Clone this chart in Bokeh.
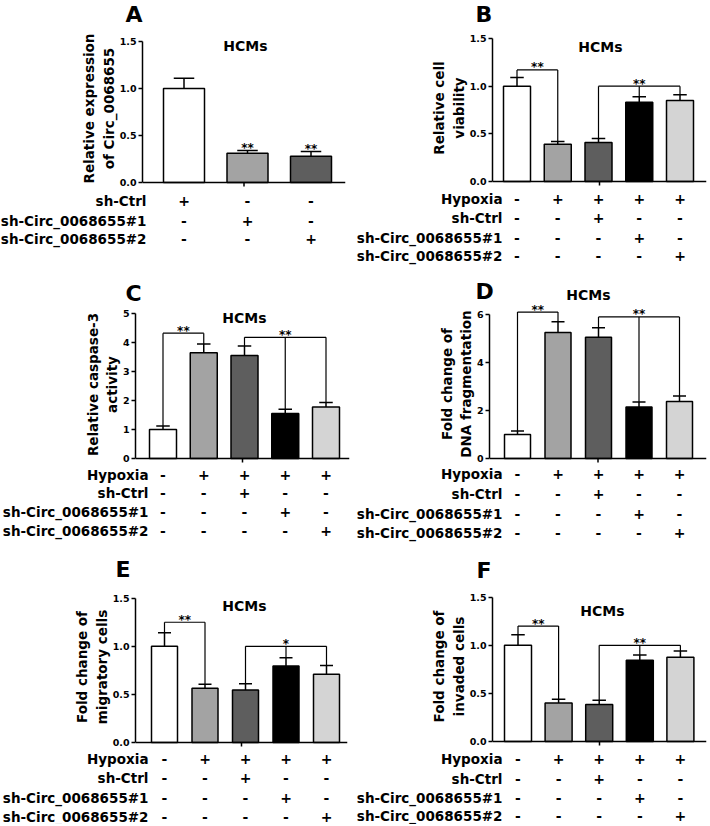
from bokeh.plotting import figure
from bokeh.models import Span, FixedTicker, NumeralTickFormatter, Range1d
from bokeh.layouts import column, row
from bokeh.embed import file_html
from bokeh.resources import INLINE
from bokeh.core.properties import value

FONT = "DejaVu Sans"

# ---------------- data ----------------
colors_A = ["#ffffff", "#a3a3a3", "#5e5e5e"]
colors_5 = ["#ffffff", "#a3a3a3", "#5e5e5e", "#000000", "#d4d4d4"]

rows_A = ["sh-Ctrl", "sh-Circ_0068655#1", "sh-Circ_0068655#2"]
signs_A = [["+", "-", "-"], ["-", "+", "-"], ["-", "-", "+"]]
rows_5 = ["Hypoxia", "sh-Ctrl", "sh-Circ_0068655#1", "sh-Circ_0068655#2"]
signs_5 = [["-", "+", "+", "+", "+"],
           ["-", "-", "+", "-", "-"],
           ["-", "-", "-", "+", "-"],
           ["-", "-", "-", "-", "+"]]

A_values = [1.00, 0.31, 0.28]
A_errors = [0.11, 0.03, 0.05]
A_stars = ["", "**", "**"]

B_values = [1.00, 0.39, 0.41, 0.83, 0.85]
B_errors = [0.09, 0.03, 0.04, 0.06, 0.06]
C_values = [1.00, 3.65, 3.55, 1.55, 1.78]
C_errors = [0.12, 0.30, 0.33, 0.15, 0.15]
D_values = [1.00, 5.25, 5.05, 2.15, 2.38]
D_errors = [0.15, 0.45, 0.40, 0.20, 0.22]
E_values = [1.00, 0.565, 0.545, 0.795, 0.71]
E_errors = [0.14, 0.04, 0.065, 0.085, 0.09]
F_values = [1.00, 0.40, 0.385, 0.845, 0.875]
F_errors = [0.11, 0.04, 0.045, 0.055, 0.065]

# brackets: (left bar, right bar, middle bar or None, height, label)
B_brackets = [(0, 1, None, 1.17, "**"), (2, 4, 3, 1.00, "**")]
C_brackets = [(0, 1, None, 4.32, "**"), (2, 4, 3, 4.18, "**")]
D_brackets = [(0, 1, None, 6.10, "**"), (2, 4, 3, 5.90, "**")]
E_brackets = [(0, 1, None, 1.25, "**"), (2, 4, 3, 1.00, "*")]
F_brackets = [(0, 1, None, 1.20, "**"), (2, 4, 3, 1.00, "**")]

ticks_15 = [0, 0.5, 1.0, 1.5]
ticks_C = [0, 1, 2, 3, 4, 5]
ticks_D = [0, 2, 4, 6]


def style(p):
    p.outline_line_color = None
    p.grid.visible = False
    p.background_fill_color = "white"
    p.border_fill_color = "white"
    p.frame_align = False
    return p


def bare(w, h, xr, yr):
    p = figure(width=w, height=h, output_backend="svg", toolbar_location=None,
               x_range=xr, y_range=yr, x_axis_location=None, y_axis_location=None,
               min_border=0)
    return style(p)


def txt(p, xs, ys, texts, size, align="center"):
    p.text(x=xs, y=ys, text=texts, text_font=value(FONT), text_font_style="bold",
           text_font_size=size, text_align=align, text_baseline="middle",
           text_color="black")


def make_panel(g, values, errors, colors, row_names, signs, ticks, tick_fmt,
               ylabel, letter, brackets=None, stars=None):
    fl, ft, fw, fh = g["fig"]
    y0, ytop_px, ymax = g["y0"], g["ytop_px"], ticks[-1]
    c0, sp = g["c0"], g["sp"]
    scale = (y0 - ytop_px) / ymax
    fb = ft + fh
    h1 = g["head_b"]
    h2 = y0 + 6

    def X(px):
        return (px - c0) / sp

    def Y(py):
        return (y0 - py) / scale

    # --- header strip (panel letter, maybe title) ---
    head = bare(fw, h1 - ft, Range1d(X(fl), X(fl + fw)), Range1d(Y(h1), Y(ft)))
    lx, ly = g["letter"]
    txt(head, [X(lx)], [Y(ly)], [letter], "22px", align="left")

    # --- bar plot with real y axis ---
    p = figure(width=fw, height=h2 - h1, output_backend="svg", toolbar_location=None,
               x_range=Range1d(X(g["ax_x"]), X(g["ax_r"])),
               y_range=Range1d(Y(h2), Y(h1)),
               x_axis_location=None,
               min_border_left=g["ax_x"] - fl, min_border_right=fl + fw - g["ax_r"],
               min_border_top=0, min_border_bottom=0)
    style(p)

    ax = p.yaxis[0]
    ax.bounds = (0, ymax)
    ax.ticker = FixedTicker(ticks=ticks)
    ax.formatter = NumeralTickFormatter(format=tick_fmt)
    ax.minor_tick_line_color = None
    ax.major_tick_in = 0
    ax.major_tick_out = 4
    ax.axis_line_width = 1.5
    ax.major_tick_line_width = 1.5
    ax.major_label_standoff = 2
    ax.major_label_text_font = FONT
    ax.major_label_text_font_style = "bold"
    ax.major_label_text_font_size = "9.5px"
    ax.major_label_text_color = "black"
    ax.axis_label = "\n".join(ylabel)
    ax.axis_label_text_font = FONT
    ax.axis_label_text_font_style = "bold"
    ax.axis_label_text_font_size = "13.5px"
    ax.axis_label_text_color = "black"
    ax.axis_label_standoff = 0

    hx, hy = g["hcms"]
    if hy < h1:
        txt(head, [X(hx)], [Y(hy)], ["HCMs"], "14px")
    else:
        txt(p, [X(hx)], [Y(hy)], ["HCMs"], "14px")

    n = len(values)
    xs = list(range(n))
    bw = g["bar_px"] / sp
    tops = [v + e for v, e in zip(values, errors)]

    # error bars (upper only)
    p.segment(x0=xs, y0=values, x1=xs, y1=tops, line_color="black", line_width=1.5)
    p.segment(x0=[x - bw / 4 for x in xs], y0=tops, x1=[x + bw / 4 for x in xs], y1=tops,
              line_color="black", line_width=1.5)
    p.vbar(x=xs, top=values, width=bw, bottom=0, fill_color=colors,
           line_color="black", line_width=1.5)

    # x axis line and centre tick
    p.add_layout(Span(location=0, dimension="width", line_color="black", line_width=1.5))
    mid = (X(g["ax_x"]) + X(g["ax_r"])) / 2
    p.segment(x0=[mid], y0=[0], x1=[mid], y1=[-4 / scale], line_color="black", line_width=1.5)

    if brackets:
        bx0, by0, bx1, by1, sx, sy, st = [], [], [], [], [], [], []
        for (l, r, m, h, lab) in brackets:
            bx0 += [l, r, l]
            by0 += [tops[l], tops[r], h]
            bx1 += [l, r, r]
            by1 += [h, h, h]
            if m is not None:
                bx0.append(m); by0.append(tops[m]); bx1.append(m); by1.append(h)
            sx.append(m if m is not None else (l + r) / 2)
            sy.append(h + 2.5 / scale)
            st.append(lab)
        p.segment(x0=bx0, y0=by0, x1=bx1, y1=by1, line_color="black", line_width=1.2)
        txt(p, sx, sy, st, "12px")
    if stars:
        txt(p, xs, [t + 2.5 / scale for t in tops], stars, "12px")

    # --- +/- table ---
    tab = bare(fw, fb - h2, Range1d(X(fl), X(fl + fw)), Range1d(Y(fb), Y(h2)))
    tx, ty, tt = [], [], []
    for ri, py in enumerate(g["rows"]):
        for ci in range(n):
            tx.append(ci); ty.append(Y(py)); tt.append(signs[ri][ci])
    txt(tab, tx, ty, tt, "14px")
    txt(tab, [X(g["label_r"])] * len(row_names), [Y(py) for py in g["rows"]],
        row_names, "13.5px", align="right")

    return column(head, p, tab)


# page geometry (pixels)
gA = dict(fig=(0, 0, 350, 270), head_b=28, ax_x=142, ax_r=345, y0=182, ytop_px=41,
          c0=183.5, sp=63.5, bar_px=41, rows=[200, 220, 238], label_r=146,
          hcms=(245, 45), letter=(125, 14))
gB = dict(fig=(350, 0, 360, 270), head_b=28, ax_x=492, ax_r=706, y0=181, ytop_px=38,
          c0=516.5, sp=40.75, bar_px=27, rows=[198, 217, 237, 255], label_r=502,
          hcms=(600, 46), letter=(475, 13.5))
gC = dict(fig=(0, 270, 350, 280), head_b=304, ax_x=135, ax_r=349, y0=458, ytop_px=313,
          c0=162.5, sp=40.75, bar_px=27, rows=[474, 492, 511, 530], label_r=148,
          hcms=(244, 317), letter=(125, 292.5))
gD = dict(fig=(350, 270, 360, 280), head_b=303, ax_x=489, ax_r=706, y0=458, ytop_px=314,
          c0=517, sp=40.5, bar_px=26, rows=[473, 493, 513, 532], label_r=502,
          hcms=(588, 294), letter=(475, 290.5))
gE = dict(fig=(0, 550, 350, 274), head_b=585, ax_x=135, ax_r=347, y0=742, ytop_px=597.7,
          c0=164, sp=40.5, bar_px=26, rows=[758, 777, 797, 816], label_r=148,
          hcms=(244, 605), letter=(115, 569))
gF = dict(fig=(350, 550, 360, 274), head_b=585, ax_x=492, ax_r=706, y0=741, ytop_px=596.7,
          c0=517.5, sp=40.6, bar_px=27, rows=[758, 778, 797, 815], label_r=502,
          hcms=(602, 610), letter=(476, 570))

pA = make_panel(gA, A_values, A_errors, colors_A, rows_A, signs_A, ticks_15, "0.0",
                ["Relative expression", "of Circ_0068655"], "A", stars=A_stars)
pB = make_panel(gB, B_values, B_errors, colors_5, rows_5, signs_5, ticks_15, "0.0",
                ["Relative cell", "viability"], "B", brackets=B_brackets)
pC = make_panel(gC, C_values, C_errors, colors_5, rows_5, signs_5, ticks_C, "0",
                ["Relative caspase-3", "activity"], "C", brackets=C_brackets)
pD = make_panel(gD, D_values, D_errors, colors_5, rows_5, signs_5, ticks_D, "0",
                ["Fold change of", "DNA fragmentation"], "D", brackets=D_brackets)
pE = make_panel(gE, E_values, E_errors, colors_5, rows_5, signs_5, ticks_15, "0.0",
                ["Fold change of", "migratory cells"], "E", brackets=E_brackets)
pF = make_panel(gF, F_values, F_errors, colors_5, rows_5, signs_5, ticks_15, "0.0",
                ["Fold change of", "invaded cells"], "F", brackets=F_brackets)

layout = column(row(pA, pB), row(pC, pD), row(pE, pF))
open("out.html", "w").write(file_html(layout, INLINE, title="HCMs"))
